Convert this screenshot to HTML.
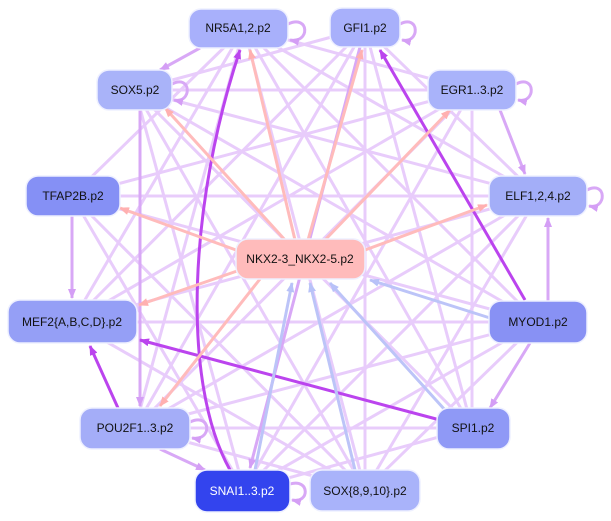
<!DOCTYPE html>
<html><head><meta charset="utf-8"><style>
html,body{margin:0;padding:0;background:#fff;}
svg{display:block;}
text{font-family:"Liberation Sans",sans-serif;font-size:12px;text-anchor:middle;dominant-baseline:central;}
</style></head><body>
<svg width="611" height="521" viewBox="0 0 611 521">
<defs>
<marker id="al" markerUnits="userSpaceOnUse" markerWidth="10" markerHeight="8" refX="9" refY="4" orient="auto"><path d="M0,0L10,4L0,8z" fill="#e3c3fa"/></marker>
<marker id="am" markerUnits="userSpaceOnUse" markerWidth="10" markerHeight="8" refX="9" refY="4" orient="auto"><path d="M0,0L10,4L0,8z" fill="#d49ef5"/></marker>
<marker id="as" markerUnits="userSpaceOnUse" markerWidth="10" markerHeight="8" refX="9" refY="4" orient="auto"><path d="M0,0L10,4L0,8z" fill="#bb44ee"/></marker>
<marker id="ap" markerUnits="userSpaceOnUse" markerWidth="10" markerHeight="8" refX="9" refY="4" orient="auto"><path d="M0,0L10,4L0,8z" fill="#ffb0b0"/></marker>
<marker id="ab" markerUnits="userSpaceOnUse" markerWidth="10" markerHeight="8" refX="9" refY="4" orient="auto"><path d="M0,0L10,4L0,8z" fill="#b8c2f8"/></marker>
</defs>
<g stroke="#e8ccfb" stroke-width="3" fill="none">
<line x1="135" y1="90" x2="472" y2="90"/>
<line x1="135" y1="90" x2="538" y2="196"/>
<line x1="135" y1="90" x2="472" y2="428"/>
<line x1="135" y1="90" x2="365" y2="490"/>
<line x1="135" y1="90" x2="244" y2="490"/>
<line x1="244" y1="28" x2="472" y2="90"/>
<line x1="244" y1="28" x2="538" y2="196"/>
<line x1="244" y1="28" x2="135" y2="428"/>
<line x1="244" y1="28" x2="365" y2="490"/>
<line x1="244" y1="28" x2="72" y2="322"/>
<line x1="365" y1="28" x2="135" y2="90"/>
<line x1="365" y1="28" x2="72" y2="322"/>
<line x1="365" y1="28" x2="538" y2="196"/>
<line x1="365" y1="28" x2="472" y2="428"/>
<line x1="365" y1="28" x2="365" y2="490"/>
<line x1="472" y1="90" x2="72" y2="322"/>
<line x1="472" y1="90" x2="135" y2="428"/>
<line x1="472" y1="90" x2="244" y2="490"/>
<line x1="472" y1="90" x2="472" y2="428"/>
<line x1="72" y1="196" x2="538" y2="196"/>
<line x1="72" y1="196" x2="244" y2="28"/>
<line x1="72" y1="196" x2="472" y2="90"/>
<line x1="72" y1="196" x2="538" y2="322"/>
<line x1="72" y1="196" x2="244" y2="490"/>
<line x1="538" y1="196" x2="72" y2="322"/>
<line x1="538" y1="196" x2="135" y2="428"/>
<line x1="538" y1="196" x2="244" y2="490"/>
<line x1="538" y1="196" x2="365" y2="490"/>
<line x1="72" y1="322" x2="538" y2="322"/>
<line x1="72" y1="322" x2="365" y2="490"/>
<line x1="538" y1="322" x2="244" y2="28"/>
<line x1="538" y1="322" x2="135" y2="90"/>
<line x1="538" y1="322" x2="135" y2="428"/>
<line x1="538" y1="322" x2="244" y2="490"/>
<line x1="538" y1="322" x2="365" y2="490"/>
<line x1="135" y1="428" x2="472" y2="428"/>
<line x1="135" y1="428" x2="365" y2="28"/>
<line x1="135" y1="428" x2="365" y2="490"/>
<line x1="472" y1="428" x2="244" y2="28"/>
<line x1="472" y1="428" x2="244" y2="490"/>
<line x1="365" y1="490" x2="72" y2="196"/>
</g>
<g stroke="#d8a8f6" stroke-width="3" fill="none" marker-end="url(#am)">
<line x1="72" y1="216" x2="72" y2="298"/>
<line x1="160" y1="449" x2="205" y2="470"/>
<line x1="530" y1="343" x2="490" y2="408"/>
<line x1="200" y1="48" x2="160" y2="70"/>
<line x1="140" y1="110" x2="140" y2="406"/>
<line x1="360" y1="47" x2="250" y2="468"/>
<line x1="500" y1="110" x2="525" y2="174"/>
<line x1="548" y1="301" x2="548" y2="218"/>
<path d="M288 24 C310 14 310 44 290 40"/>
<path d="M400 24 C420 14 420 44 402 40"/>
<path d="M172 84 C192 74 192 104 174 100"/>
<path d="M516 84 C536 74 536 104 518 100"/>
<path d="M587 190 C607 180 607 210 589 206"/>
<path d="M190 422 C212 412 212 442 192 438"/>
<path d="M290 484 C310 478 310 504 292 500"/>
</g>
<g stroke="#bb44ee" stroke-width="3" fill="none" marker-end="url(#as)">
<line x1="525" y1="300" x2="380" y2="50"/>
<line x1="440" y1="420" x2="140" y2="340"/>
<path d="M230 470 C180 380 190 200 240 50"/>
<line x1="118" y1="408" x2="90" y2="346"/>
</g>
<g stroke="#ffbbbb" stroke-width="3" fill="none" marker-end="url(#ap)">
<line x1="285" y1="240" x2="165" y2="108"/>
<line x1="295" y1="240" x2="250" y2="50"/>
<line x1="308" y1="240" x2="362" y2="50"/>
<line x1="325" y1="240" x2="450" y2="110"/>
<line x1="365" y1="250" x2="487" y2="205"/>
<line x1="236" y1="250" x2="120" y2="208"/>
<line x1="240" y1="270" x2="139" y2="305"/>
<line x1="260" y1="279" x2="160" y2="406"/>
</g>
<g stroke="#bcc4f8" stroke-width="3" fill="none" marker-end="url(#ab)">
<line x1="490" y1="318" x2="370" y2="280"/>
<line x1="445" y1="410" x2="330" y2="283"/>
<line x1="255" y1="470" x2="292" y2="283"/>
<line x1="355" y1="470" x2="310" y2="283"/>
</g>
<g stroke="#eef0ff" stroke-width="1.5">
<rect x="189" y="9" width="99" height="39" rx="12" fill="#a8b0fb"/>
<rect x="330" y="8" width="70" height="39" rx="12" fill="#a8b0fb"/>
<rect x="97" y="70" width="75" height="40" rx="12" fill="#a9b3f9"/>
<rect x="428" y="70" width="88" height="40" rx="12" fill="#a9b3fa"/>
<rect x="26" y="176" width="94" height="40" rx="12" fill="#8590f5"/>
<rect x="489" y="176" width="98" height="40" rx="12" fill="#a3aef8"/>
<rect x="236" y="239" width="129" height="40" rx="12" fill="#ffbbbb"/>
<rect x="8" y="300" width="129" height="43" rx="12" fill="#959ff6"/>
<rect x="489" y="301" width="98" height="42" rx="12" fill="#8891f4"/>
<rect x="80" y="408" width="110" height="41" rx="12" fill="#a4adf8"/>
<rect x="437" y="408" width="73" height="41" rx="12" fill="#8f99f6"/>
<rect x="195" y="470" width="95" height="42" rx="12" fill="#3344ee"/>
<rect x="310" y="470" width="110" height="41" rx="12" fill="#a9b3fa"/>
</g>
<g fill="#111">
<text x="238" y="28">NR5A1,2.p2</text>
<text x="365" y="28">GFI1.p2</text>
<text x="135" y="90">SOX5.p2</text>
<text x="472" y="90">EGR1..3.p2</text>
<text x="73" y="196">TFAP2B.p2</text>
<text x="538" y="196">ELF1,2,4.p2</text>
<text x="300" y="259">NKX2-3_NKX2-5.p2</text>
<text x="72" y="322">MEF2{A,B,C,D}.p2</text>
<text x="538" y="322">MYOD1.p2</text>
<text x="135" y="428">POU2F1..3.p2</text>
<text x="473" y="428">SPI1.p2</text>
<text x="242" y="491" fill="#fff">SNAI1..3.p2</text>
<text x="365" y="491">SOX{8,9,10}.p2</text>
</g>
</svg>
</body></html>
